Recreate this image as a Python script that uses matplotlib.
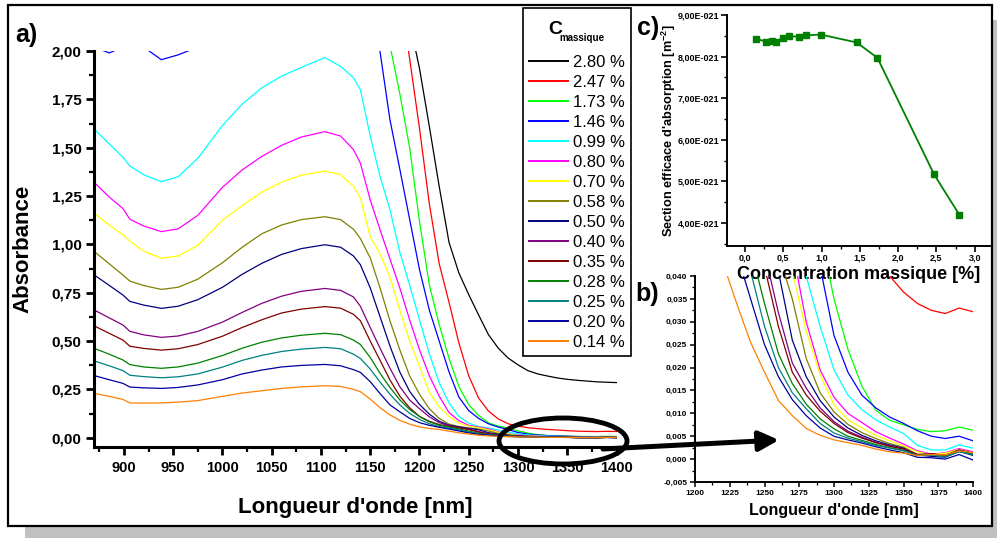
import matplotlib
matplotlib.use("Agg")
import matplotlib.pyplot as plt
from matplotlib.patches import Rectangle, Ellipse, FancyArrowPatch
from matplotlib.ticker import MultipleLocator, FuncFormatter

plt.rcParams['font.family'] = ['Liberation Sans', 'DejaVu Sans']
plt.rcParams['font.weight'] = 'bold'
plt.rcParams['mathtext.fontset'] = 'custom'
plt.rcParams['mathtext.rm'] = 'Liberation Sans'
plt.rcParams['mathtext.bf'] = 'Liberation Sans:bold'
plt.rcParams['mathtext.it'] = 'Liberation Sans:italic'
plt.rcParams['mathtext.default'] = 'bf'

# ---------------- data ----------------
wavelength = [870, 885, 899, 906, 920, 938, 955, 975, 1000, 1020,
              1040, 1060, 1080, 1104, 1120, 1133, 1140, 1150, 1160, 1170,
              1180, 1190, 1200, 1210, 1220, 1230, 1240, 1250, 1260, 1270,
              1280, 1290, 1300, 1310, 1320, 1330, 1340, 1350, 1360, 1370,
              1380, 1390, 1400]

conc_labels = ["2.80 %", "2.47 %", "1.73 %", "1.46 %", "0.99 %", "0.80 %", "0.70 %",
               "0.58 %", "0.50 %", "0.40 %", "0.35 %", "0.28 %", "0.25 %", "0.20 %", "0.14 %"]

abs_280 = [2.60, 2.60, 2.60, 2.60, 2.60, 2.60, 2.60, 2.60, 2.60, 2.60,
           2.60, 2.60, 2.60, 2.60, 2.60, 2.60, 2.60, 2.55, 2.50, 2.45,
           2.35, 2.15, 1.91, 1.61, 1.30, 1.01, 0.852, 0.740, 0.635, 0.533,
           0.463, 0.412, 0.377, 0.347, 0.330, 0.319, 0.309, 0.302, 0.297, 0.293,
           0.289, 0.287, 0.285]
abs_247 = [2.60, 2.60, 2.60, 2.60, 2.60, 2.60, 2.60, 2.60, 2.60, 2.60,
           2.60, 2.60, 2.60, 2.60, 2.60, 2.60, 2.60, 2.60, 2.55, 2.50,
           2.30, 1.96, 1.60, 1.21, 0.90, 0.70, 0.49, 0.32, 0.205, 0.138,
           0.097, 0.072, 0.060, 0.052, 0.047, 0.043, 0.040, 0.0365, 0.034, 0.0325,
           0.0318, 0.0330, 0.0322]
abs_173 = [2.60, 2.60, 2.60, 2.60, 2.60, 2.60, 2.60, 2.60, 2.60, 2.60,
           2.60, 2.60, 2.60, 2.60, 2.60, 2.55, 2.50, 2.45, 2.35, 2.03,
           1.78, 1.50, 1.12, 0.79, 0.585, 0.41, 0.265, 0.170, 0.115, 0.077,
           0.060, 0.050, 0.035, 0.024, 0.016, 0.0107, 0.0085, 0.0075, 0.0065, 0.0060,
           0.0062, 0.0070, 0.0063]
abs_146 = [2.02, 1.99, 2.02, 2.03, 2.02, 1.955, 1.98, 2.02, 2.20, 2.30,
           2.40, 2.50, 2.55, 2.60, 2.55, 2.45, 2.35, 2.18, 1.995, 1.645,
           1.39, 1.13, 0.87, 0.66, 0.50, 0.34, 0.21, 0.140, 0.100, 0.072,
           0.055, 0.042, 0.027, 0.019, 0.014, 0.0112, 0.0092, 0.0078, 0.0062, 0.0050,
           0.0045, 0.0050, 0.0040]
abs_099 = [1.595, 1.520, 1.450, 1.405, 1.360, 1.324, 1.350, 1.445, 1.615, 1.725,
           1.810, 1.870, 1.915, 1.966, 1.920, 1.862, 1.800, 1.560, 1.350, 1.180,
           0.960, 0.790, 0.610, 0.435, 0.285, 0.180, 0.110, 0.075, 0.058, 0.050,
           0.040, 0.029, 0.0195, 0.0140, 0.0108, 0.0086, 0.0070, 0.0056, 0.0030, 0.0020,
           0.0020, 0.0031, 0.0024]
abs_080 = [1.319, 1.245, 1.185, 1.130, 1.095, 1.066, 1.080, 1.150, 1.295, 1.385,
           1.455, 1.512, 1.555, 1.583, 1.560, 1.490, 1.420, 1.230, 1.075, 0.925,
           0.775, 0.610, 0.455, 0.320, 0.215, 0.130, 0.088, 0.064, 0.055, 0.046,
           0.030, 0.0195, 0.0135, 0.0100, 0.0080, 0.0060, 0.0046, 0.0033, 0.0018, 0.0011,
           0.0014, 0.0023, 0.0016]
abs_070 = [1.160, 1.100, 1.050, 1.017, 0.965, 0.928, 0.940, 0.995, 1.125, 1.200,
           1.270, 1.322, 1.358, 1.379, 1.360, 1.300, 1.240, 1.040, 0.950, 0.830,
           0.660, 0.500, 0.370, 0.235, 0.160, 0.110, 0.075, 0.060, 0.052, 0.041,
           0.028, 0.0185, 0.0118, 0.0086, 0.0068, 0.0052, 0.0040, 0.0029, 0.0016, 0.0010,
           0.0013, 0.0021, 0.0014]
abs_058 = [0.962, 0.900, 0.841, 0.810, 0.787, 0.767, 0.778, 0.820, 0.905, 0.985,
           1.055, 1.100, 1.128, 1.143, 1.128, 1.078, 1.030, 0.930, 0.775, 0.605,
           0.455, 0.320, 0.225, 0.150, 0.100, 0.070, 0.058, 0.051, 0.045, 0.035,
           0.022, 0.0145, 0.0103, 0.0076, 0.0058, 0.0045, 0.0034, 0.0026, 0.0010, 0.0009,
           0.0009, 0.0019, 0.0010]
abs_050 = [0.841, 0.788, 0.738, 0.705, 0.686, 0.669, 0.680, 0.714, 0.778, 0.845,
           0.902, 0.948, 0.978, 0.998, 0.985, 0.940, 0.895, 0.775, 0.625, 0.475,
           0.340, 0.240, 0.172, 0.122, 0.085, 0.065, 0.056, 0.048, 0.041, 0.026,
           0.018, 0.0128, 0.0092, 0.0068, 0.0052, 0.0040, 0.0031, 0.0024, 0.0009, 0.0006,
           0.0004, 0.0017, 0.0008]
abs_040 = [0.660, 0.620, 0.583, 0.550, 0.532, 0.519, 0.526, 0.550, 0.598, 0.648,
           0.695, 0.732, 0.757, 0.772, 0.762, 0.728, 0.680, 0.570, 0.462, 0.360,
           0.264, 0.195, 0.150, 0.108, 0.078, 0.062, 0.053, 0.045, 0.032, 0.021,
           0.0155, 0.0112, 0.0082, 0.0061, 0.0048, 0.0037, 0.0029, 0.0022, 0.0010, 0.0010,
           0.0007, 0.0020, 0.0013]
abs_035 = [0.578, 0.540, 0.505, 0.473, 0.462, 0.453, 0.460, 0.482, 0.525, 0.570,
           0.610, 0.645, 0.665, 0.678, 0.670, 0.638, 0.605, 0.500, 0.400, 0.299,
           0.215, 0.155, 0.110, 0.085, 0.068, 0.058, 0.050, 0.042, 0.029, 0.019,
           0.014, 0.0105, 0.0078, 0.0058, 0.0046, 0.0036, 0.0028, 0.0022, 0.0010, 0.0012,
           0.0008, 0.0020, 0.0012]
abs_028 = [0.462, 0.432, 0.402, 0.378, 0.366, 0.359, 0.366, 0.386, 0.425, 0.463,
           0.494, 0.516, 0.530, 0.540, 0.533, 0.505, 0.482, 0.415, 0.333, 0.260,
           0.196, 0.146, 0.110, 0.082, 0.065, 0.055, 0.046, 0.034, 0.023, 0.0165,
           0.012, 0.0088, 0.0066, 0.0050, 0.0041, 0.0032, 0.0025, 0.0019, 0.0008, 0.0010,
           0.0006, 0.0018, 0.0011]
abs_025 = [0.397, 0.372, 0.347, 0.323, 0.316, 0.310, 0.315, 0.330, 0.365, 0.400,
           0.426, 0.446, 0.458, 0.467, 0.460, 0.432, 0.410, 0.355, 0.288, 0.225,
           0.170, 0.126, 0.095, 0.072, 0.058, 0.049, 0.041, 0.029, 0.020, 0.0145,
           0.011, 0.0078, 0.0057, 0.0046, 0.0038, 0.0030, 0.0024, 0.0018, 0.0008, 0.0009,
           0.0005, 0.0016, 0.0010]
abs_020 = [0.321, 0.300, 0.281, 0.262, 0.258, 0.255, 0.260, 0.273, 0.300, 0.330,
           0.350, 0.366, 0.374, 0.379, 0.372, 0.352, 0.338, 0.290, 0.228, 0.170,
           0.134, 0.100, 0.078, 0.064, 0.054, 0.045, 0.035, 0.025, 0.018, 0.013,
           0.0095, 0.0068, 0.0050, 0.0042, 0.0035, 0.0027, 0.0020, 0.0014, 0.0004, 0.0003,
           0.0000, 0.0010, -0.0002]
abs_014 = [0.229, 0.214, 0.198, 0.180, 0.179, 0.180, 0.184, 0.192, 0.214, 0.231,
           0.243, 0.255, 0.263, 0.269, 0.265, 0.250, 0.238, 0.200, 0.155, 0.118,
           0.090, 0.070, 0.056, 0.048, 0.043, 0.034, 0.0255, 0.019, 0.0128, 0.0095,
           0.0067, 0.0052, 0.0042, 0.0036, 0.0030, 0.0022, 0.0016, 0.0013, 0.0008, 0.0010,
           0.0009, 0.0018, 0.0014]

spectra = [abs_280, abs_247, abs_173, abs_146, abs_099, abs_080, abs_070,
           abs_058, abs_050, abs_040, abs_035, abs_028, abs_025, abs_020, abs_014]

colors = ['#000000', '#FF0000', '#00FF00', '#0000FF', '#00FFFF', '#FF00FF', '#FFFF00',
          '#808000', '#000080', '#800080', '#800000', '#008000', '#008080', '#0000A0', '#FF8000']

# inset c: absorption cross-section vs concentration
conc_c = [0.14, 0.28, 0.35, 0.40, 0.50, 0.58, 0.70, 0.80, 0.99, 1.46, 1.73, 2.47, 2.80]
sigma_c = [8.43e-21, 8.36e-21, 8.37e-21, 8.36e-21, 8.45e-21, 8.49e-21, 8.48e-21,
           8.51e-21, 8.53e-21, 8.34e-21, 7.97e-21, 5.17e-21, 4.20e-21]

# ---------------- figure ----------------
W, H = 997, 538
fig = plt.figure(figsize=(W / 100, H / 100), dpi=100)


def fx(px):
    return px / W


def fy(py):
    return 1 - py / H


def comma_fmt(dec):
    def f(v, pos):
        if abs(v) < 1e-12:
            v = 0.0
        return f"{v:.{dec}f}".replace('.', ',')
    return FuncFormatter(f)


# background panel with shadow
fig.add_artist(Rectangle((fx(25), fy(560)), (1020 - 25) / W, (560 - 20) / H,
                         transform=fig.transFigure, fc='#C0C0C0', ec='none', zorder=-10))
fig.add_artist(Rectangle((fx(8), fy(526)), (992 - 8) / W, (526 - 5) / H,
                         transform=fig.transFigure, fc='white', ec='black', lw=1.6, zorder=-9))

# ---------- main panel a) ----------
ax = fig.add_axes([fx(94), fy(447), (617 - 94) / W, (447 - 51) / H])
ax.set_facecolor('none')
lines = []
for vals, col, lab in zip(spectra, colors, conc_labels):
    ln, = ax.plot(wavelength, vals, color=col, lw=0.9, label=lab)
    lines.append(ln)
ax.set_xlim(869.6, 1400.5)
ax.set_ylim(-0.048, 2.0)
for s in ['top', 'right']:
    ax.spines[s].set_visible(False)
for s in ['left', 'bottom']:
    ax.spines[s].set_linewidth(2.2)
ax.xaxis.set_major_locator(MultipleLocator(50))
ax.xaxis.set_minor_locator(MultipleLocator(25))
ax.yaxis.set_major_locator(MultipleLocator(0.25))
ax.yaxis.set_minor_locator(MultipleLocator(0.125))
ax.yaxis.set_major_formatter(comma_fmt(2))
ax.tick_params(which='major', direction='out', length=6, width=2)
ax.tick_params(which='minor', direction='out', length=3.5, width=1.6)
ax.tick_params(axis='x', labelsize=10.5, pad=4)
ax.tick_params(axis='y', labelsize=11, pad=3)
ax.set_xlabel("Longueur d'onde [nm]", fontsize=16, fontweight='bold')
ax.set_ylabel("Absorbance", fontsize=16, fontweight='bold')
ax.xaxis.set_label_coords(0.5, -0.125)
ax.yaxis.set_label_coords(-0.115, 0.5)

leg = ax.legend(handles=lines, loc='upper left', bbox_to_anchor=(fx(523), fy(8)),
                bbox_transform=fig.transFigure, borderaxespad=0, frameon=True,
                fancybox=False, edgecolor='black', framealpha=1,
                borderpad=0.35, handlelength=2.35, handletextpad=0.3,
                labelspacing=0.30, prop={'size': 12, 'weight': 'normal'},
                title=" ", title_fontproperties={'size': 27, 'weight': 'bold'})
leg.get_frame().set_linewidth(1.2)
for lh in leg.get_lines():
    lh.set_linewidth(1.4)
# legend title: C with a small "massique" subscript
fig.text(fx(548), fy(30), "C", fontsize=14, fontweight='bold', ha='left', va='center')
fig.text(fx(559), fy(38), "massique", fontsize=7, fontweight='bold', ha='left', va='center')

# ---------- inset c) ----------
axc = fig.add_axes([fx(727), fy(246), (990 - 727) / W, (246 - 15) / H])
axc.set_facecolor('none')
axc.plot(conc_c, sigma_c, color='#008000', lw=1.3, marker='s', markersize=5,
         markerfacecolor='#008000', markeredgecolor='#008000')
axc.set_xlim(-0.234, 3.2)
axc.set_ylim(3.45e-21, 9.0e-21)
for s in ['top', 'right']:
    axc.spines[s].set_visible(False)
for s in ['left', 'bottom']:
    axc.spines[s].set_linewidth(1.4)
axc.xaxis.set_major_locator(MultipleLocator(0.5))
axc.xaxis.set_minor_locator(MultipleLocator(0.25))
axc.yaxis.set_major_locator(MultipleLocator(1e-21))
axc.yaxis.set_minor_locator(MultipleLocator(0.5e-21))
axc.xaxis.set_major_formatter(comma_fmt(1))
axc.yaxis.set_major_formatter(FuncFormatter(
    lambda v, p: f"{v * 1e21:.2f}".replace('.', ',') + "E-021"))
axc.tick_params(which='major', direction='out', length=4, width=1.2, labelsize=6.5, pad=1.5)
axc.tick_params(which='minor', direction='out', length=2.5, width=1)
axc.set_xlabel("Concentration massique [%]", fontsize=13, fontweight='bold')
axc.set_ylabel("Section efficace d'absorption [m$^{-2}$]", fontsize=9.2, fontweight='bold')
axc.xaxis.set_label_coords(0.5, -0.085)
axc.yaxis.set_label_coords(-0.188, 0.5)

# ---------- inset b) ----------
axb = fig.add_axes([fx(695), fy(482), (973 - 695) / W, (482 - 276) / H])
axb.set_facecolor('none')
for vals, col in zip(spectra, colors):
    axb.plot(wavelength, vals, color=col, lw=0.9)
axb.set_xlim(1200, 1400)
axb.set_ylim(-0.005, 0.040)
for s in ['top', 'right']:
    axb.spines[s].set_visible(False)
for s in ['left', 'bottom']:
    axb.spines[s].set_linewidth(1.4)
axb.xaxis.set_major_locator(MultipleLocator(25))
axb.xaxis.set_minor_locator(MultipleLocator(12.5))
axb.yaxis.set_major_locator(MultipleLocator(0.005))
axb.yaxis.set_minor_locator(MultipleLocator(0.0025))
axb.yaxis.set_major_formatter(comma_fmt(3))
axb.tick_params(which='major', direction='out', length=3.5, width=1.1, labelsize=6, pad=2)
axb.tick_params(which='minor', direction='out', length=2, width=0.9)
axb.set_xlabel("Longueur d'onde [nm]", fontsize=11.5, fontweight='bold')
axb.xaxis.set_label_coords(0.5, -0.1)

for a in (ax, axb, axc):
    a.xaxis.offsetText.set_visible(False)
    a.yaxis.offsetText.set_visible(False)

# ---------- annotations ----------
fig.text(fx(26), fy(35), "a)", fontsize=18, fontweight='bold', ha='center', va='center')
fig.text(fx(648), fy(28), "c)", fontsize=18, fontweight='bold', ha='center', va='center')
fig.text(fx(647), fy(294), "b)", fontsize=18, fontweight='bold', ha='center', va='center')

fig.add_artist(Ellipse((fx(563), fy(441)), 128 / W, 46 / H, transform=fig.transFigure,
                       fill=False, ec='black', lw=3.5, zorder=10))
fig.add_artist(FancyArrowPatch((fx(603), fy(449)), (fx(779), fy(440)),
                               transform=fig.transFigure,
                               arrowstyle='-|>,head_length=0.6,head_width=0.3',
                               mutation_scale=20, lw=3.6, color='black',
                               shrinkA=0, shrinkB=0, zorder=11))

fig.savefig("out.png", dpi=100)
